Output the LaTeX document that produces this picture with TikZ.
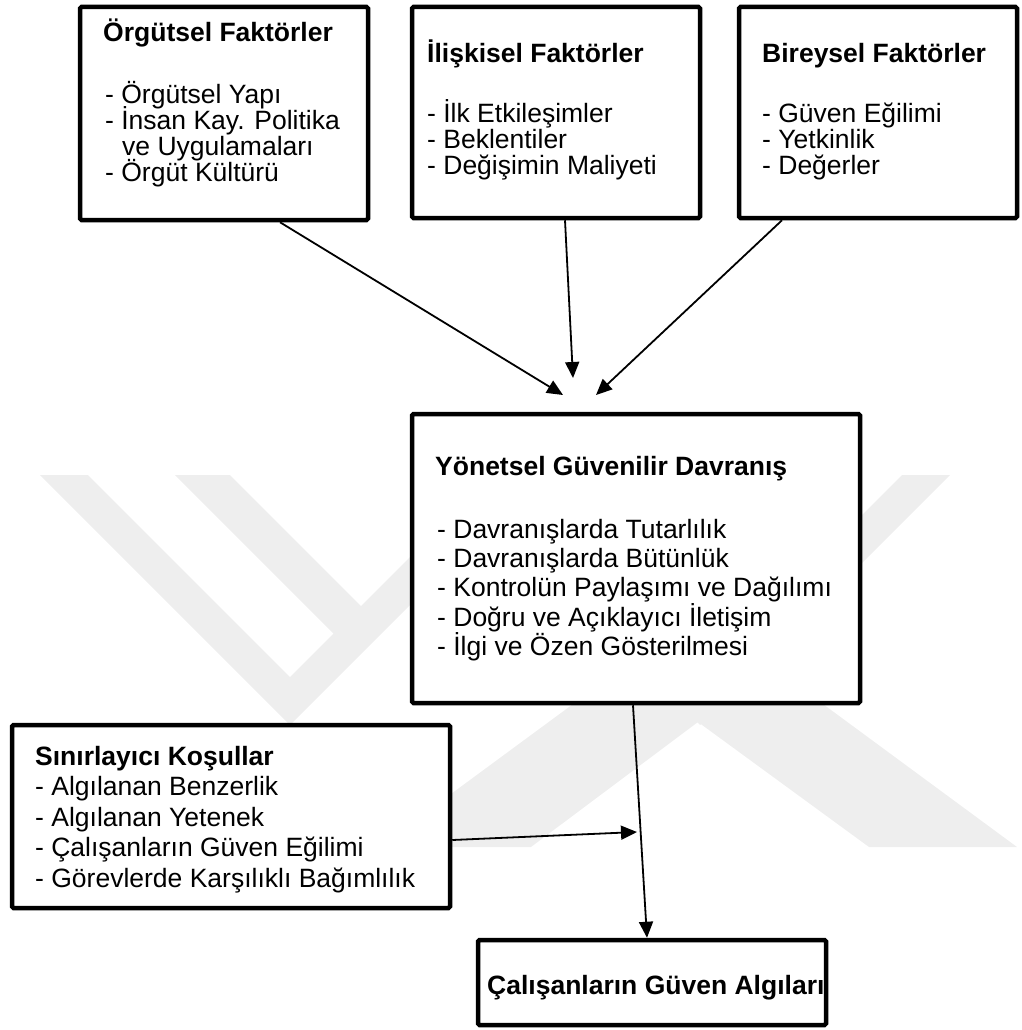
\documentclass[tikz,border=0pt]{standalone}
\usepackage{fontspec}
\setmainfont{Liberation Sans}
\usetikzlibrary{arrows.meta,calc}
\definecolor{wm}{gray}{0.935}
\begin{document}
\begin{tikzpicture}[x=1pt,y=-1pt,
  box/.style={draw=black, line width=4.5pt, fill=white, rounded corners=1.5pt, inner sep=0pt},
  txt/.style={anchor=base west, inner sep=0pt, font=\fontsize{26.5}{30}\selectfont},
  ttl/.style={anchor=base west, inner sep=0pt, font=\fontsize{26.5}{30}\selectfont\bfseries},
  conn/.style={line width=1.8pt, -{Triangle[length=16pt,width=14pt]}}
]
\useasboundingbox (0,0) rectangle (1021,1030);
% faint watermark
\fill[wm] (40,475) -- (88,475) -- (290,677) -- (492,475) -- (540,475) -- (290,725) -- cycle;
\fill[wm] (175,475) -- (230,475) -- (372.5,617.5) -- (345,645) -- cycle;
\fill[wm] (450,475) -- (498,475) -- (700,677) -- (902,475) -- (950,475) -- (700,725) -- cycle;
\fill[wm] (815,475) -- (760,475) -- (617.5,617.5) -- (645,645) -- cycle;
\fill[wm] (379,847) -- (698,612) -- (1017,847) -- (869,847) -- (698,722) -- (531,847) -- cycle;

% boxes
\node[box, minimum width=288pt, minimum height=213pt] (org) at (224,113.5) {};
\node[box, minimum width=288pt, minimum height=211pt] (ili) at (556,112.5) {};
\node[box, minimum width=278pt, minimum height=211pt] (bir) at (878,112.5) {};
\node[box, minimum width=448pt, minimum height=289pt] (yon) at (636,558.5) {};
\node[box, minimum width=438pt, minimum height=183pt] (sin) at (231,816.5) {};
\node[box, minimum width=348pt, minimum height=85pt] (cal) at (652,982.5) {};

% texts
\node[ttl] (orgT) at (103,42) {Örgütsel Faktörler};
\node[txt] (org1) at (105,104) {- Örgütsel Yapı};
\node[txt] (org2) at (105,130) {- İnsan Kay. Politika};
\node[txt] (org3) at (122,155) {ve Uygulamaları};
\node[txt] (org4) at (105,181) {- Örgüt Kültürü};

\node[ttl] (iliT) at (427,63) {İlişkisel Faktörler};
\node[txt] (ili1) at (427,123) {- İlk Etkileşimler};
\node[txt] (ili2) at (427,148.5) {- Beklentiler};
\node[txt] (ili3) at (427,174) {- Değişimin Maliyeti};

\node[ttl] (birT) at (762,63) {Bireysel Faktörler};
\node[txt] (bir1) at (762,123) {- Güven Eğilimi};
\node[txt] (bir2) at (762,148.5) {- Yetkinlik};
\node[txt] (bir3) at (762,174) {- Değerler};

\node[ttl] (yonT) at (435,475) {Yönetsel Güvenilir Davranış};
\node[txt] (yon1) at (437,538) {- Davranışlarda Tutarlılık};
\node[txt] (yon2) at (437,567) {- Davranışlarda Bütünlük};
\node[txt] (yon3) at (437,596.5) {- Kontrolün Paylaşımı ve Dağılımı};
\node[txt] (yon4) at (437,626) {- Doğru ve Açıklayıcı İletişim};
\node[txt] (yon5) at (437,655.5) {- İlgi ve Özen Gösterilmesi};

\node[ttl] (sinT) at (35,765) {Sınırlayıcı Koşullar};
\node[txt] (sin1) at (35,795.5) {- Algılanan Benzerlik};
\node[txt] (sin2) at (35,826) {- Algılanan Yetenek};
\node[txt] (sin3) at (35,856.5) {- Çalışanların Güven Eğilimi};
\node[txt] (sin4) at (35,887) {- Görevlerde Karşılıklı Bağımlılık};

\node[ttl] (calT) at (487,994.5) {Çalışanların Güven Algıları};

% free arrow ends
\coordinate (t1) at (563,395);
\coordinate (t2) at (573,378);
\coordinate (t3) at (596,395);
\coordinate (t5) at (637,832);

% connectors
\draw[conn] ([xshift=56pt]org.south) -- (t1);
\draw[conn] ([xshift=9pt]ili.south) -- (t2);
\draw[conn] ([xshift=-96pt]bir.south) -- (t3);
\draw[conn] ([xshift=-3pt]yon.south) -- ([xshift=-5pt]cal.north);
\draw[conn] ([yshift=-23.5pt]sin.east) -- (t5);
\end{tikzpicture}
\end{document}
